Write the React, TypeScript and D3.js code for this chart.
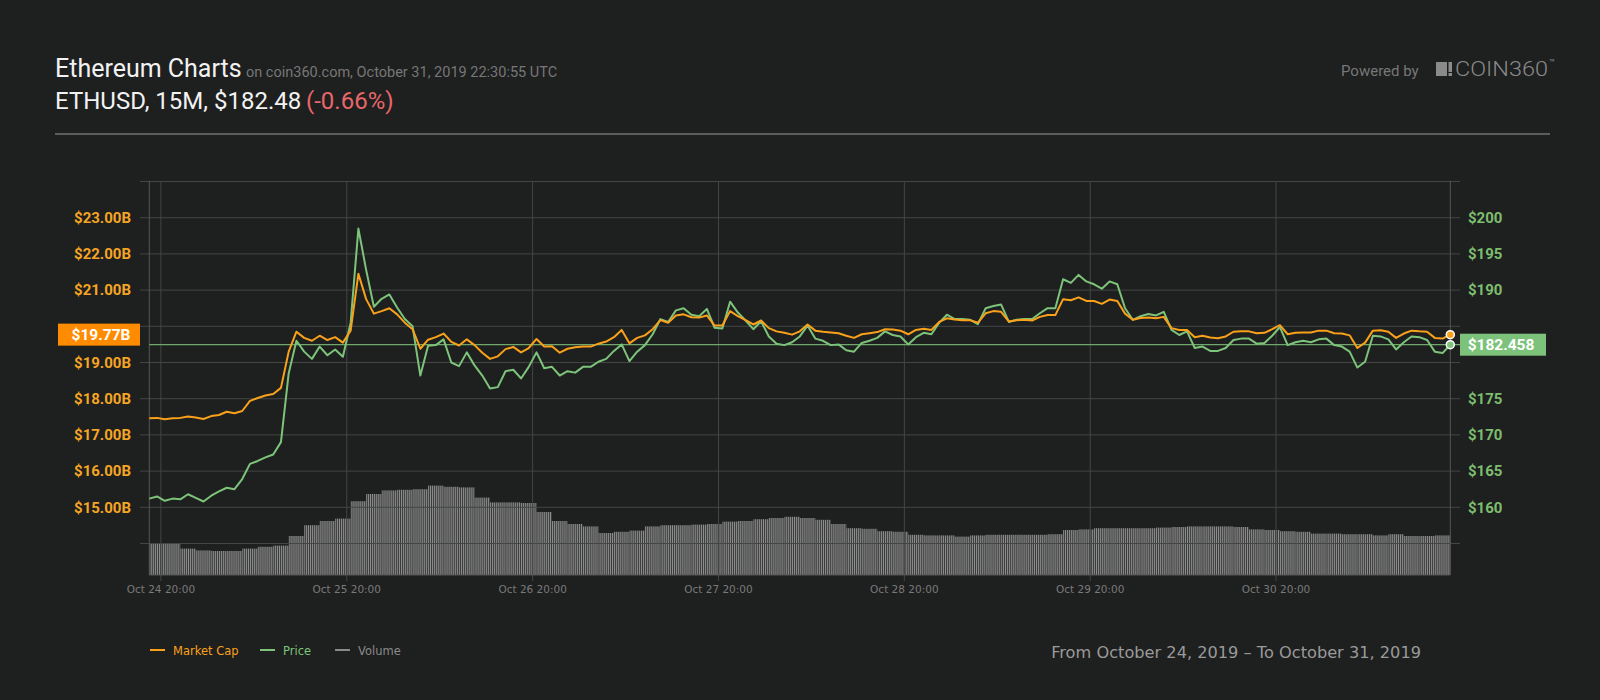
import { useRef, useEffect } from 'react';
import * as d3 from 'd3';

// hourly samples, Oct 24 18:30 UTC -> Oct 31 18:30 UTC
const startTime = Date.UTC(2019, 9, 24, 18, 30);

const priceValues = [
    161.2, 161.5, 160.9, 161.2, 161.1, 161.8, 161.3, 160.8, 161.6, 162.2,
    162.7, 162.5, 163.9, 166.0, 166.4, 166.9, 167.3, 169.0, 178.5, 183.0,
    181.5, 180.5, 182.2, 181.0, 181.8, 180.8, 185.5, 198.5, 192.8, 187.7,
    188.8, 189.4, 187.6, 186.0, 185.0, 178.2, 182.3, 182.4, 183.2, 180.0,
    179.5, 181.4, 179.6, 178.2, 176.4, 176.6, 178.8, 179.0, 177.8, 179.4,
    181.4, 179.2, 179.4, 178.2, 178.8, 178.6, 179.4, 179.4, 180.1, 180.5,
    181.6, 182.5, 180.2, 181.5, 182.4, 183.9, 186.0, 185.6, 187.2, 187.5,
    186.6, 186.4, 187.4, 184.8, 184.7, 188.4, 186.9, 185.8, 184.6, 185.7,
    183.6, 182.6, 182.4, 182.8, 183.6, 185.1, 183.3, 183.0, 182.4, 182.5,
    181.7, 181.5, 182.7, 183.0, 183.4, 184.3, 183.8, 183.6, 182.5, 183.5,
    184.1, 183.9, 185.5, 186.6, 186.0, 186.0, 185.9, 185.3, 187.5, 187.8,
    188.0, 185.6, 185.9, 186.0, 186.0, 186.8, 187.5, 187.5, 191.5, 191.0,
    192.1, 191.2, 190.8, 190.2, 191.2, 190.8, 187.5, 185.9, 186.4, 186.7,
    186.5, 187.0, 184.5, 183.8, 184.3, 182.0, 182.2, 181.6, 181.6, 182.0,
    183.1, 183.3, 183.3, 182.6, 182.7, 183.7, 184.9, 182.4, 182.8, 183.0,
    182.8, 183.2, 183.3, 182.4, 182.2, 181.5, 179.3, 180.1, 183.7, 183.6,
    183.2, 181.8, 182.8, 183.6, 183.5, 183.1, 181.5, 181.3, 182.458,
];

// $B
const marketCapValues = [
    17.46, 17.47, 17.43, 17.46, 17.47, 17.51, 17.48, 17.44, 17.52, 17.55,
    17.64, 17.60, 17.66, 17.94, 18.02, 18.09, 18.13, 18.30, 19.30, 19.85,
    19.68, 19.60, 19.74, 19.62, 19.70, 19.55, 19.88, 21.45, 20.75, 20.35,
    20.42, 20.50, 20.33, 20.10, 19.92, 19.38, 19.63, 19.70, 19.80, 19.57,
    19.47, 19.64, 19.48, 19.27, 19.10, 19.17, 19.37, 19.43, 19.28, 19.40,
    19.65, 19.44, 19.45, 19.27, 19.38, 19.42, 19.44, 19.44, 19.52, 19.58,
    19.70, 19.90, 19.53, 19.68, 19.75, 19.92, 20.17, 20.10, 20.30, 20.33,
    20.25, 20.24, 20.30, 20.02, 20.02, 20.42, 20.28, 20.17, 20.05, 20.16,
    19.95, 19.86, 19.82, 19.77, 19.86, 20.05, 19.88, 19.85, 19.83, 19.81,
    19.74, 19.68, 19.78, 19.81, 19.84, 19.92, 19.91, 19.88, 19.78, 19.90,
    19.93, 19.90, 20.12, 20.22, 20.19, 20.17, 20.17, 20.10, 20.36, 20.42,
    20.40, 20.13, 20.17, 20.18, 20.16, 20.26, 20.31, 20.31, 20.75, 20.72,
    20.80, 20.70, 20.70, 20.62, 20.74, 20.70, 20.35, 20.18, 20.23, 20.24,
    20.22, 20.26, 19.95, 19.90, 19.90, 19.70, 19.74, 19.69, 19.67, 19.72,
    19.85, 19.86, 19.86, 19.81, 19.82, 19.92, 20.03, 19.78, 19.82, 19.83,
    19.83, 19.88, 19.88, 19.81, 19.80, 19.75, 19.40, 19.55, 19.88, 19.89,
    19.85, 19.68, 19.80, 19.88, 19.86, 19.85, 19.68, 19.66, 19.77,
];

// 24h volume, $B, one value per 2 hours
const volumeValues = [
    5.3, 5.3, 4.4, 4.1, 4.0, 4.0, 4.4, 4.7, 4.9, 6.5,
    8.3, 9.0, 9.4, 12.3, 13.5, 14.1, 14.2, 14.3, 14.9, 14.7,
    14.6, 12.9, 12.1, 12.1, 12.0, 10.5, 9.0, 8.5, 8.1, 7.0,
    7.2, 7.4, 8.1, 8.3, 8.3, 8.4, 8.5, 8.9, 9.0, 9.3,
    9.5, 9.7, 9.5, 9.2, 8.5, 7.8, 7.7, 7.3, 7.2, 6.7,
    6.6, 6.6, 6.4, 6.6, 6.7, 6.7, 6.7, 6.7, 6.8, 7.5,
    7.6, 7.8, 7.8, 7.8, 7.8, 7.9, 8.0, 8.1, 8.1, 8.1,
    8.0, 7.6, 7.5, 7.3, 7.2, 6.9, 6.9, 6.8, 6.8, 6.6,
    6.8, 6.5, 6.5, 6.6,
];

const capGridValues = [14, 15, 16, 17, 18, 19, 20, 21, 22, 23, 24];
const capTickValues = [15, 16, 17, 18, 19, 21, 22, 23];
const priceTickValues = [160, 165, 170, 175, 190, 195, 200];
const xTickTimes = [
    '2019-10-24T20:00:00Z', '2019-10-25T20:00:00Z', '2019-10-26T20:00:00Z',
    '2019-10-27T20:00:00Z', '2019-10-28T20:00:00Z', '2019-10-29T20:00:00Z',
    '2019-10-30T20:00:00Z',
];
const lastPrice = 182.458;
const lastCap = 19.77;

const legendItems = [
    { label: 'Market Cap', color: '#f9a11b' },
    { label: 'Price', color: '#7dc47a' },
    { label: 'Volume', color: '#8a8a8a' },
];

export default function App() {
    const svgRef = useRef<SVGSVGElement>(null);

    useEffect(() => {
        if (!svgRef.current) return;
        const width = 1600;
        const height = 700;
        const plot = { left: 149.3, right: 1450.3, top: 181, bottom: 575 };
        const orange = '#f9a11b';
        const green = '#7dc47a';
        const gridColor = '#444646';
        const hour = 3600 * 1000;

        const svg = d3.select(svgRef.current)
            .attr('width', width)
            .attr('height', height);
        svg.selectAll('*').remove();

        svg.append('rect')
            .attr('width', width)
            .attr('height', height)
            .attr('fill', '#1e1f1f');

        const xScale = d3.scaleUtc()
            .domain([new Date(startTime), new Date(startTime + 168 * hour)])
            .range([plot.left, plot.right]);
        const capScale = d3.scaleLinear().domain([13.13, 24]).range([plot.bottom, 181.5]);
        const priceScale = d3.scaleLinear().domain([150.65, 205]).range([plot.bottom, 181.5]);
        const volScale = d3.scaleLinear().domain([0, 20]).range([plot.bottom, 455]);

        // Header
        const title = svg.append('text')
            .attr('x', 55).attr('y', 77)
            .attr('font-family', 'Roboto').attr('font-size', 25).attr('fill', '#f2f2f2')
            .text('Ethereum Charts');
        title.append('tspan')
            .attr('x', 246).attr('font-size', 14.5).attr('fill', '#777')
            .text('on coin360.com, October 31, 2019 22:30:55 UTC');

        const sub = svg.append('text')
            .attr('x', 55).attr('y', 109)
            .attr('font-family', 'Roboto').attr('font-size', 24).attr('fill', '#f2f2f2')
            .text('ETHUSD, 15M, $182.48');
        sub.append('tspan')
            .attr('x', 306).attr('fill', '#e8676a')
            .text('(-0.66%)');

        svg.append('line')
            .attr('x1', 55).attr('x2', 1550).attr('y1', 134).attr('y2', 134)
            .attr('stroke', '#5c5c5c').attr('stroke-width', 2);

        // Powered by logo
        svg.append('text')
            .attr('x', 1341).attr('y', 76)
            .attr('font-family', 'Roboto').attr('font-size', 15).attr('fill', '#777')
            .text('Powered by');
        svg.append('rect').attr('x', 1436).attr('y', 62).attr('width', 11).attr('height', 14).attr('fill', '#8a8a8a');
        svg.append('rect').attr('x', 1448.5).attr('y', 62).attr('width', 3.5).attr('height', 10).attr('fill', '#8a8a8a');
        svg.append('rect').attr('x', 1448.5).attr('y', 73).attr('width', 3.5).attr('height', 3).attr('fill', '#8a8a8a');
        svg.append('text')
            .attr('x', 1455).attr('y', 76)
            .attr('font-family', 'Roboto').attr('font-weight', 300).attr('font-size', 20).attr('fill', '#8a8a8a')
            .attr('textLength', 93).attr('lengthAdjust', 'spacingAndGlyphs')
            .text('COIN360');
        svg.append('text')
            .attr('x', 1549).attr('y', 66)
            .attr('font-family', 'Roboto').attr('font-size', 10).attr('fill', '#8a8a8a')
            .text('™');

        const g = svg.append('g');

        // Volume (drawn under the grid)
        const barStep = (plot.right - plot.left) / 672;
        const pattern = svg.append('defs')
            .append('pattern')
            .attr('id', 'volStripes')
            .attr('patternUnits', 'userSpaceOnUse')
            .attr('x', plot.left)
            .attr('width', barStep)
            .attr('height', 10);
        pattern.append('rect')
            .attr('width', barStep * 0.62)
            .attr('height', 10)
            .attr('fill', '#8e8e8e');

        g.selectAll('rect.vol')
            .data(volumeValues)
            .enter()
            .append('rect')
            .attr('x', (_, i) => xScale(new Date(startTime + i * 2 * hour)))
            .attr('width', (_, i) => xScale(new Date(startTime + (i + 1) * 2 * hour)) - xScale(new Date(startTime + i * 2 * hour)))
            .attr('y', d => volScale(d))
            .attr('height', d => plot.bottom - volScale(d))
            .attr('fill', 'url(#volStripes)');

        // Grid
        g.selectAll('line.hgrid')
            .data(capGridValues)
            .enter()
            .append('line')
            .attr('x1', 140).attr('x2', 1460)
            .attr('y1', d => capScale(d)).attr('y2', d => capScale(d))
            .attr('stroke', gridColor);

        g.selectAll('line.vgrid')
            .data(xTickTimes)
            .enter()
            .append('line')
            .attr('x1', d => xScale(new Date(d))).attr('x2', d => xScale(new Date(d)))
            .attr('y1', plot.top).attr('y2', plot.bottom + 6)
            .attr('stroke', gridColor);

        // Frame
        g.append('line')
            .attr('x1', plot.left).attr('x2', plot.left).attr('y1', plot.top).attr('y2', plot.bottom)
            .attr('stroke', '#555');
        g.append('line')
            .attr('x1', plot.right).attr('x2', plot.right).attr('y1', plot.top).attr('y2', plot.bottom)
            .attr('stroke', '#555');
        g.append('line')
            .attr('x1', plot.left).attr('x2', plot.right).attr('y1', plot.bottom).attr('y2', plot.bottom)
            .attr('stroke', '#555');

        // Current price line
        g.append('line')
            .attr('x1', plot.left).attr('x2', 1460)
            .attr('y1', priceScale(lastPrice)).attr('y2', priceScale(lastPrice))
            .attr('stroke', '#6fa86a').attr('stroke-width', 1.2);

        // Lines
        const priceLine = d3.line<number>()
            .x((_, i) => xScale(new Date(startTime + i * hour)))
            .y(d => priceScale(d));
        const capLine = d3.line<number>()
            .x((_, i) => xScale(new Date(startTime + i * hour)))
            .y(d => capScale(d));

        g.append('path')
            .datum(priceValues)
            .attr('fill', 'none')
            .attr('stroke', green)
            .attr('stroke-width', 2)
            .attr('stroke-linejoin', 'round')
            .attr('d', priceLine);

        g.append('path')
            .datum(marketCapValues)
            .attr('fill', 'none')
            .attr('stroke', orange)
            .attr('stroke-width', 2)
            .attr('stroke-linejoin', 'round')
            .attr('d', capLine);

        const endX = xScale(new Date(startTime + (priceValues.length - 1) * hour));
        g.append('circle')
            .attr('cx', endX).attr('cy', priceScale(lastPrice)).attr('r', 4)
            .attr('fill', green).attr('stroke', '#fff').attr('stroke-width', 1.5);
        g.append('circle')
            .attr('cx', endX).attr('cy', capScale(lastCap)).attr('r', 4)
            .attr('fill', orange).attr('stroke', '#fff').attr('stroke-width', 1.5);

        // Left axis (market cap)
        g.selectAll('text.cap')
            .data(capTickValues)
            .enter()
            .append('text')
            .attr('x', 131)
            .attr('y', d => capScale(d))
            .attr('dy', '0.35em')
            .attr('text-anchor', 'end')
            .attr('font-family', 'Roboto').attr('font-weight', 700).attr('font-size', 15)
            .attr('fill', '#f5a524')
            .text(d => `$${d.toFixed(2)}B`);

        // Right axis (price)
        g.selectAll('text.price')
            .data(priceTickValues)
            .enter()
            .append('text')
            .attr('x', 1468)
            .attr('y', d => priceScale(d))
            .attr('dy', '0.35em')
            .attr('font-family', 'Roboto').attr('font-weight', 700).attr('font-size', 15)
            .attr('fill', '#7dbd6e')
            .text(d => `$${d}`);

        // Current value badges
        g.append('rect')
            .attr('x', 58).attr('y', capScale(lastCap) - 11).attr('width', 82).attr('height', 22)
            .attr('fill', '#ff8c00');
        g.append('text')
            .attr('x', 101).attr('y', capScale(lastCap)).attr('dy', '0.35em')
            .attr('text-anchor', 'middle')
            .attr('font-family', 'Roboto').attr('font-weight', 700).attr('font-size', 15.5).attr('fill', '#fff')
            .text(`$${lastCap}B`);

        g.append('rect')
            .attr('x', 1460).attr('y', priceScale(lastPrice) - 11).attr('width', 86).attr('height', 22)
            .attr('fill', '#7dc27a');
        g.append('text')
            .attr('x', 1501).attr('y', priceScale(lastPrice)).attr('dy', '0.35em')
            .attr('text-anchor', 'middle')
            .attr('font-family', 'Roboto').attr('font-weight', 700).attr('font-size', 15.5).attr('fill', '#fff')
            .text(`$${lastPrice}`);

        // X axis labels
        const fmt = d3.utcFormat('%b %d %H:%M');
        g.selectAll('text.xlab')
            .data(xTickTimes)
            .enter()
            .append('text')
            .attr('x', d => xScale(new Date(d)))
            .attr('y', 593)
            .attr('text-anchor', 'middle')
            .attr('font-family', 'DejaVu Sans').attr('font-size', 10.5)
            .attr('fill', '#7a7a7a')
            .text(d => fmt(new Date(d)));

        // Legend
        const legendX = [150, 260, 335];
        const legend = svg.append('g');
        legendItems.forEach((item, i) => {
            legend.append('line')
                .attr('x1', legendX[i]).attr('x2', legendX[i] + 15)
                .attr('y1', 650).attr('y2', 650)
                .attr('stroke', item.color).attr('stroke-width', 2);
            legend.append('text')
                .attr('x', legendX[i] + 23).attr('y', 654.5)
                .attr('font-family', 'DejaVu Sans').attr('font-size', 11.5)
                .attr('fill', item.color)
                .text(item.label);
        });

        svg.append('text')
            .attr('x', 1421).attr('y', 658)
            .attr('text-anchor', 'end')
            .attr('font-family', 'DejaVu Sans').attr('font-size', 16.2)
            .attr('fill', '#9a9a9a')
            .text('From October 24, 2019 \u2013 To October 31, 2019');
    }, []);

    return (
        <div style={{ position: 'absolute', left: 0, top: 0, width: 1600, height: 700 }}>
            <svg ref={svgRef} style={{ display: 'block' }} />
        </div>
    );
}
